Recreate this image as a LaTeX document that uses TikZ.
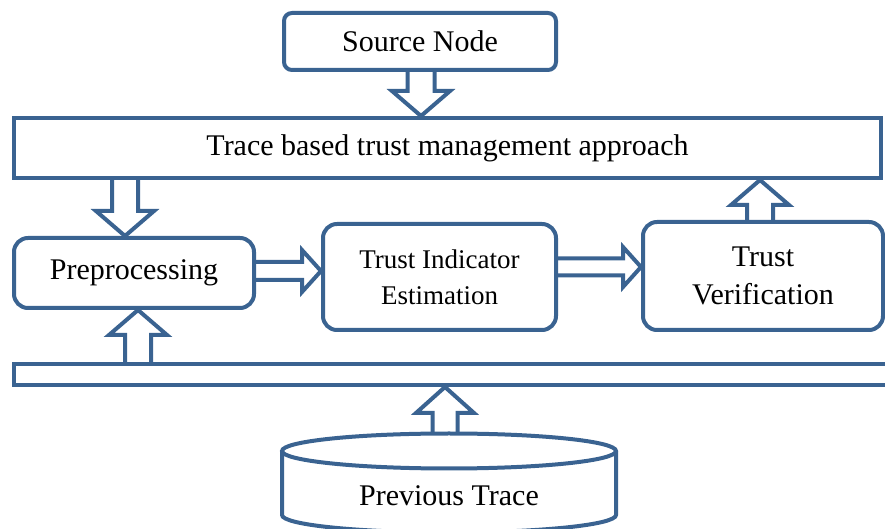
\documentclass[tikz,border=0pt]{standalone}
\usepackage{fontspec}
\setmainfont{Liberation Serif}
\usepackage{tikz}
\usetikzlibrary{calc}
\definecolor{traceBlue}{HTML}{3A6391}

% hollow block arrow: shaft half, head half, head length, from, to
\newcommand{\blockarrow}[5]{%
  \path (#4) coordinate (ba-s) (#5) coordinate (ba-e);
  \coordinate (ba-h) at ($(ba-e)!#3!(ba-s)$);
  \draw[fat] ($(ba-s)!#1!90:(ba-e)$) -- ($(ba-h)!#1!90:(ba-e)$)
    -- ($(ba-h)!#2!90:(ba-e)$) -- (ba-e) -- ($(ba-h)!#2!-90:(ba-e)$)
    -- ($(ba-h)!#1!-90:(ba-e)$) -- ($(ba-s)!#1!-90:(ba-e)$);
}

\begin{document}
\begin{tikzpicture}[
  x=0.5pt, y=-0.5pt,
  font=\fontsize{15}{18}\selectfont,
  box/.style={draw=traceBlue, line width=2pt, inner sep=0pt, align=center},
  rbox/.style={box, rounded corners=7pt},
  fat/.style={draw=traceBlue, line width=2pt, line join=miter},
  drum/.style={draw=traceBlue, line width=2pt}
]
\useasboundingbox (0,0) rectangle (885,529);
\clip (0,0) rectangle (885,529);

% boxes
\node[rbox, minimum width=136pt, minimum height=28.5pt, rounded corners=4pt]
  (src) at (420,41.5) {Source Node};
\node[box, minimum width=433.5pt, minimum height=30pt]
  (trace) at (447.5,148) {Trace based trust management approach};
\node[rbox, minimum width=120pt, minimum height=35pt]
  (pre) at (134,273) {Preprocessing};
\node[rbox, minimum width=116.5pt, minimum height=53pt,
  font=\fontsize{13.5}{18}\selectfont]
  (tie) at (439.5,277) {Trust Indicator\\Estimation};
\node[rbox, minimum width=120pt, minimum height=54pt,
  font=\fontsize{15}{19}\selectfont]
  (tv) at (763,276) {Trust\\Verification};
\node[box, minimum width=446pt, minimum height=10.5pt]
  (bar) at (460,374.5) {};

% store of previous traces
\draw[drum] (449,451) ellipse [x radius=167, y radius=17.5];
\draw[drum] (282,451) -- (282,515)
  arc [start angle=180, end angle=0, x radius=167, y radius=17.5] -- (616,451);
\coordinate (prevtop) at (449,433.5);
\node (prev) at (449,496) {Previous Trace};

% arrows
\blockarrow{6.75pt}{14.5pt}{12.5pt}{[xshift=0.5pt]src.south}{[xshift=0.5pt]src.south |- trace.north}
\blockarrow{6.5pt}{14.5pt}{12.5pt}{[xshift=-4.5pt]pre.north |- trace.south}{[xshift=-4.5pt]pre.north}
\blockarrow{6.5pt}{14.5pt}{12.5pt}{[xshift=-1.5pt]tv.north}{[xshift=-1.5pt]tv.north |- trace.south}
\blockarrow{6.5pt}{14.5pt}{12.5pt}{[xshift=2pt]pre.south |- bar.north}{[xshift=2pt]pre.south}
\blockarrow{6.25pt}{14.5pt}{13pt}{[xshift=-2pt]prevtop}{[xshift=-2pt]prevtop |- bar.south}
\blockarrow{4.5pt}{10.5pt}{9.5pt}{[yshift=1pt]pre.east}{[yshift=1pt]pre.east -| tie.west}
\blockarrow{4.25pt}{10pt}{9pt}{[yshift=5pt]tie.east}{[yshift=5pt]tie.east -| tv.west}
\end{tikzpicture}
\end{document}
